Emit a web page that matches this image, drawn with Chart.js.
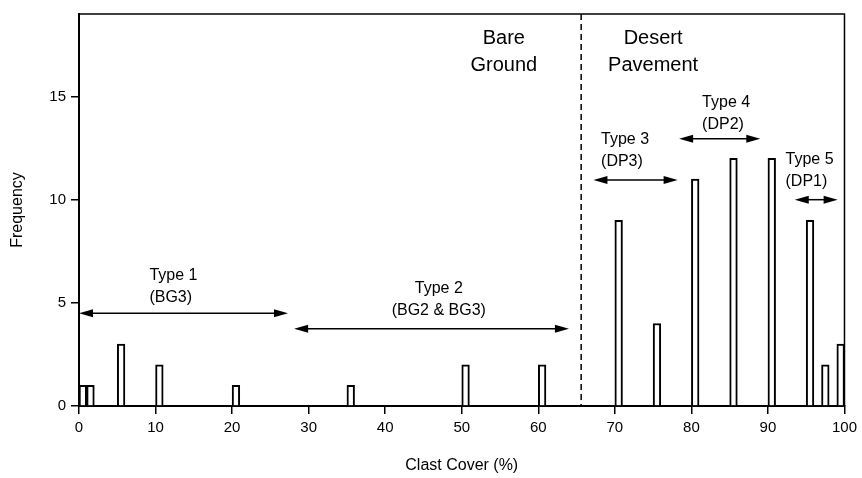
<!DOCTYPE html>
<html lang="en">
  <head>
    <meta charset="utf-8">
    <title>Clast Cover</title>
    <script src="https://cdn.jsdelivr.net/npm/chart.js@4.4.0/dist/chart.umd.min.js"></script>
    <style>
      body { margin: 0; background: #fff; }
      #wrap { width: 862px; height: 478px; position: relative; }
    </style>
  </head>
  <body>
    <div id="wrap">
      <canvas id="histGraph"></canvas>
    </div>
  <script>
  // histogram bins (left edge, 1 % wide) and counts
  var binStart = [0, 1, 5, 10, 20, 35, 50, 60, 70, 75, 80, 85, 90, 95, 97, 99];
  var counts   = [1, 1, 3, 2, 1, 1, 2, 2, 9, 4, 11, 12, 12, 9, 2, 3];

  var xTicks = [0, 10, 20, 30, 40, 50, 60, 70, 80, 90, 100];
  var yTicks = [0, 5, 10, 15];

  // boundary between bare ground and desert pavement
  var dividerX = 65.6;
  var regionText = [["Bare", "Ground"], ["Desert", "Pavement"]];
  var regionX = [55.5, 75];
  var regionY = 17.8;

  // double headed arrows for the surface types
  var arrowFrom = [0, 28.1, 67.2, 78.4, 93.5];
  var arrowTo   = [27.3, 64, 78.2, 89, 99.1];
  var arrowY    = [4.5, 3.75, 10.95, 12.95, 10];

  var typeText  = [["Type 1", "(BG3)"], ["Type 2", "(BG2 & BG3)"], ["Type 3", "(DP3)"], ["Type 4", "(DP2)"], ["Type 5", "(DP1)"]];
  var typeX     = [9.2, 47, 68.2, 81.4, 92.3];
  var typeY     = [6.3, 5.67, 12.93, 14.71, 11.92];
  var typeAlign = ["left", "center", "left", "left", "left"];

  var FONT = '"Liberation Sans", Arial, Helvetica, sans-serif';
  Chart.defaults.color = "#000";
  Chart.defaults.font.family = FONT;

  function drawArrow(ctx, x1, x2, yy){
    var head = 14, half = 4;
    ctx.beginPath();
    ctx.moveTo(x1 + head - 2, yy);
    ctx.lineTo(x2 - head + 2, yy);
    ctx.stroke();
    ctx.beginPath();
    ctx.moveTo(x1, yy); ctx.lineTo(x1 + head, yy - half); ctx.lineTo(x1 + head, yy + half); ctx.closePath();
    ctx.fill();
    ctx.beginPath();
    ctx.moveTo(x2, yy); ctx.lineTo(x2 - head, yy - half); ctx.lineTo(x2 - head, yy + half); ctx.closePath();
    ctx.fill();
  }

  var annotations = {
    id: "annotations",
    afterDraw: function(chart){
      var ctx = chart.ctx, a = chart.chartArea;
      var xs = chart.scales.x, ys = chart.scales.y;
      ctx.save();
      ctx.strokeStyle = "#000";
      ctx.fillStyle = "#000";

      // frame top + right
      ctx.lineWidth = 1.5;
      ctx.beginPath();
      ctx.moveTo(a.left, a.top);
      ctx.lineTo(a.right, a.top);
      ctx.lineTo(a.right, a.bottom);
      ctx.stroke();

      // dashed divider
      var dx = xs.getPixelForValue(dividerX);
      ctx.setLineDash([6, 4]);
      ctx.beginPath();
      ctx.moveTo(dx, a.top);
      ctx.lineTo(dx, a.bottom);
      ctx.stroke();
      ctx.setLineDash([]);

      // arrows
      ctx.lineWidth = 1.5;
      for(var i = 0; i < arrowY.length; ++i){
        drawArrow(ctx, xs.getPixelForValue(arrowFrom[i]), xs.getPixelForValue(arrowTo[i]), ys.getPixelForValue(arrowY[i]));
      }

      // region labels
      ctx.textBaseline = "middle";
      ctx.textAlign = "center";
      ctx.font = "20px " + FONT;
      for(var r = 0; r < regionText.length; ++r){
        var ry = ys.getPixelForValue(regionY);
        ctx.fillText(regionText[r][0], xs.getPixelForValue(regionX[r]), ry);
        ctx.fillText(regionText[r][1], xs.getPixelForValue(regionX[r]), ry + 27);
      }

      // type labels
      ctx.font = "16px " + FONT;
      for(var t = 0; t < typeText.length; ++t){
        ctx.textAlign = typeAlign[t];
        var tx = xs.getPixelForValue(typeX[t]);
        var ty = ys.getPixelForValue(typeY[t]);
        ctx.fillText(typeText[t][0], tx, ty);
        ctx.fillText(typeText[t][1], tx, ty + 22);
      }
      ctx.restore();
    }
  };

  var points = [];
  for(var i = 0; i < binStart.length; ++i){
    points.push({x: binStart[i] + 0.5, y: counts[i]});
  }

  var ctx = document.getElementById("histGraph");
  var histGraph = new Chart(ctx, {
    type: "bar",
    data: {
      datasets: [{
        data: points,
        backgroundColor: "#fff",
        borderColor: "#000",
        borderWidth: 2,
        borderSkipped: "start",
        barPercentage: 1,
        categoryPercentage: 1
      }]
    },
    options: {
      responsive: true,
      maintainAspectRatio: false,
      animation: false,
      layout: { padding: { left: 0, right: 15, top: 12, bottom: 0 } },
      plugins: { legend: { display: false }, tooltip: { enabled: false } },
      scales: {
        x: {
          type: "linear",
          min: 0,
          max: 100,
          offset: false,
          afterFit: function(scale){ scale.height = 72; },
          afterBuildTicks: function(scale){ scale.ticks = xTicks.map(function(v){ return {value: v}; }); },
          ticks: { font: { size: 15 }, padding: 5, maxRotation: 0, autoSkip: false },
          grid: { offset: false, drawOnChartArea: false, drawTicks: true, tickLength: 8, color: "#000", lineWidth: 1.5 },
          border: { display: true, color: "#000", width: 2 },
          title: { display: true, text: "Clast Cover (%)", font: { size: 16 }, padding: { top: 0, bottom: 3 } }
        },
        y: {
          min: 0,
          max: 19,
          afterFit: function(scale){ scale.width = 79; },
          afterBuildTicks: function(scale){ scale.ticks = yTicks.map(function(v){ return {value: v}; }); },
          ticks: { font: { size: 15 }, padding: 5 },
          grid: { drawOnChartArea: false, drawTicks: true, tickLength: 8, color: "#000", lineWidth: 1.5 },
          border: { display: true, color: "#000", width: 2 },
          title: { display: true, text: "Frequency", font: { size: 16 }, padding: { top: 8, bottom: 0 } }
        }
      }
    },
    plugins: [annotations]
  });
  </script>
  </body>
</html>
